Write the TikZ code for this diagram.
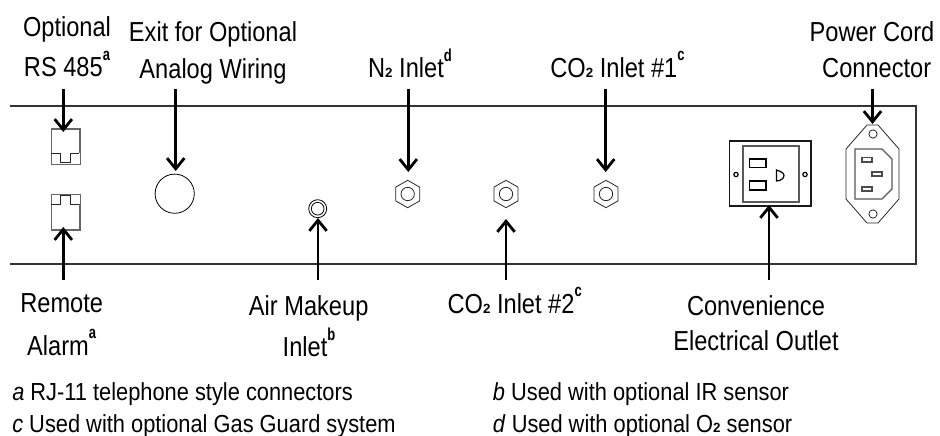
\documentclass[tikz,border=0pt]{standalone}
\usepackage{fontspec}
\setmainfont[FakeStretch=0.86]{Liberation Sans}
\newfontfamily\noterm[FakeStretch=0.885,ItalicFont={Liberation Sans Italic}]{Liberation Sans}
\newfontfamily\boldcond[FakeStretch=0.75]{Liberation Sans Bold}
\newfontfamily\boldplain{Liberation Sans Bold}
\usetikzlibrary{arrows.meta}
\tikzset{
  x=0.75pt,y=-0.75pt,
  panel/.style={line width=0.9pt,draw=black!80},
  thin part/.style={line width=0.6pt,draw=black!85,fill=white},
  grey part/.style={line width=1pt,draw=black!60},
  call/.style={line width=2.1pt,-{Straight Barb[length=8pt,width=13pt,line width=2.1pt]}},
  lab/.style={font=\fontsize{20.6pt}{20.6pt}\selectfont,anchor=base,inner sep=0pt},
  note/.style={font=\noterm\fontsize{18.5pt}{18.5pt}\selectfont,anchor=base west,inner sep=0pt},
}
\newcommand{\sups}[1]{\raisebox{12.5pt}{\boldcond\fontsize{13pt}{13pt}\selectfont #1}}
\newcommand{\subtwo}{{\boldplain\fontsize{10pt}{10pt}\selectfont 2}}
\begin{document}
\begin{tikzpicture}
\useasboundingbox (0,0) rectangle (940,436);
% panel
\draw[panel] (10,106) -- (916,106) -- (916,264) -- (10,264);
% RJ-11 connectors
\draw[line width=0.7pt,draw=black!60] (51,128.5) rectangle (80,164);
\draw[grey part] (51.5,153.3) -- (51.5,129) -- (79.5,129) -- (79.5,153.3);
\draw[line width=0.6pt,draw=black!85] (51,153.3) -- (60.7,153.3) -- (60.7,162.3) -- (70,162.3) -- (70,153.3) -- (79,153.3);
\draw[line width=0.7pt,draw=black!60] (51,194.5) rectangle (80,230);
\draw[grey part] (51.5,204.3) -- (51.5,229.5) -- (79.5,229.5) -- (79.5,204.3);
\draw[line width=0.6pt,draw=black!85] (51,204.3) -- (60.7,204.3) -- (60.7,195.7) -- (70,195.7) -- (70,204.3) -- (79,204.3);
\node[draw,circle,line width=0.6pt,minimum size=29.4pt,inner sep=0pt] (exit) at (174.7,193.7) {};
% air
\node[draw,circle,line width=0.6pt,minimum size=13.5pt,inner sep=0pt] (air) at (317.7,208.7) {};
\node[draw,circle,line width=0.6pt,minimum size=9.5pt,inner sep=0pt] at (317.7,208.7) {};
% hex fittings
\foreach \nm/\cx in {hexa/407.7,hexb/506,hexc/606}{
  \coordinate (\nm) at (\cx,194);
  \draw[thin part] (\cx,180.3) -- ++(12,6.8) -- ++(0,13.8) -- ++(-12,6.8) -- ++(-12,-6.8) -- ++(0,-13.8) -- cycle;
  \draw[thin part] (\cx,194) circle (5pt);
}
% outlet
\draw[line width=1.1pt,draw=black!90] (729.3,141) rectangle (811,206);
\draw[line width=0.9pt,draw=black!65] (743,146) rectangle (799,202);
\draw[line width=0.9pt] (749.5,159) rectangle (766,167.5);
\draw[line width=0.9pt] (749.5,181) rectangle (766,190);
\draw[line width=0.9pt] (776.5,170) -- (776.5,181) .. controls (781,181) and (784,178) .. (784,175.5) .. controls (784,173) and (781,171.5) .. cycle;
\draw[line width=0.9pt] (736,174.5) circle (1.6pt);
\draw[line width=0.9pt] (805,174.5) circle (1.6pt);
% power
\draw[thin part] (867,125) -- (878,125) -- (899,149) -- (899,199) -- (878,223) -- (867,223) -- (846,199) -- (846,149) -- cycle;
\draw[line width=0.9pt,draw=black!65] (855,149) -- (882,149) -- (892,159) -- (892,189) -- (882,199) -- (855,199) -- cycle;
\draw[thin part] (873,134) circle (3.1pt);
\draw[thin part] (873,214) circle (3.1pt);
\draw[line width=0.9pt,draw=black!70] (862,157.5) rectangle (872,162);
\draw[line width=0.9pt,draw=black!70] (872,172) rectangle (882,176);
\draw[line width=0.9pt,draw=black!70] (862,187) rectangle (872,191);
% labels
\node[lab] (l1a) at (67,36) {Optional};
\node[lab] (l1) at (67,76.7) {RS 485\sups{a}};
\node[lab] (l2a) at (213,41.7) {Exit for Optional};
\node[lab] (l2) at (213,78) {Analog Wiring};
\node[lab] (l3) at (410,77.7) {N\subtwo{} Inlet\sups{d}};
\node[lab] (l4) at (617.5,77) {CO\subtwo{} Inlet \#1\sups{c}};
\node[lab] (l5a) at (872,41.7) {Power Cord};
\node[lab] (l5) at (876.7,77) {Connector};
\node[lab] (l6) at (61.7,312.7) {Remote};
\node[lab] (l6b) at (61.7,355) {Alarm\sups{a}};
\node[lab] (l7) at (308.7,315) {Air Makeup};
\node[lab] (l7b) at (309,356.7) {Inlet\sups{b}};
\node[lab] (l8) at (514.7,313.3) {CO\subtwo{} Inlet \#2\sups{c}};
\node[lab] (l9) at (756,315) {Convenience};
\node[lab] (l9b) at (756,350.7) {Electrical Outlet};
\node[note] (n1) at (12,400.7) {\textit{a} RJ-11 telephone style connectors};
\node[note] (n2) at (12,432.3) {\textit{c} Used with optional Gas Guard system};
\node[note] (n3) at (492.7,400.7) {\textit{b} Used with optional IR sensor};
\node[note] (n4) at (492.7,432.3) {\textit{d} Used with optional O\subtwo{} sensor};
% arrows
\coordinate (t1) at (63.3,132); \coordinate (f1) at (63.3,89);
\coordinate (t2) at (175.7,171); \coordinate (f2) at (175.7,89);
\coordinate (t3) at (408.3,172); \coordinate (f3) at (408.3,89);
\coordinate (t4) at (605.7,172); \coordinate (f4) at (605.7,89);
\coordinate (t5) at (872.5,124); \coordinate (f5) at (872.5,89);
\coordinate (t6) at (63.3,227); \coordinate (f6) at (63.3,280);
\coordinate (t7) at (318,218); \coordinate (f7) at (318,280);
\coordinate (t8) at (506,219); \coordinate (f8) at (506,280);
\coordinate (t9) at (769,205); \coordinate (f9) at (769,280);
\foreach \i in {1,...,9}{\draw[call] (f\i) -- (t\i);}
\end{tikzpicture}
\end{document}
